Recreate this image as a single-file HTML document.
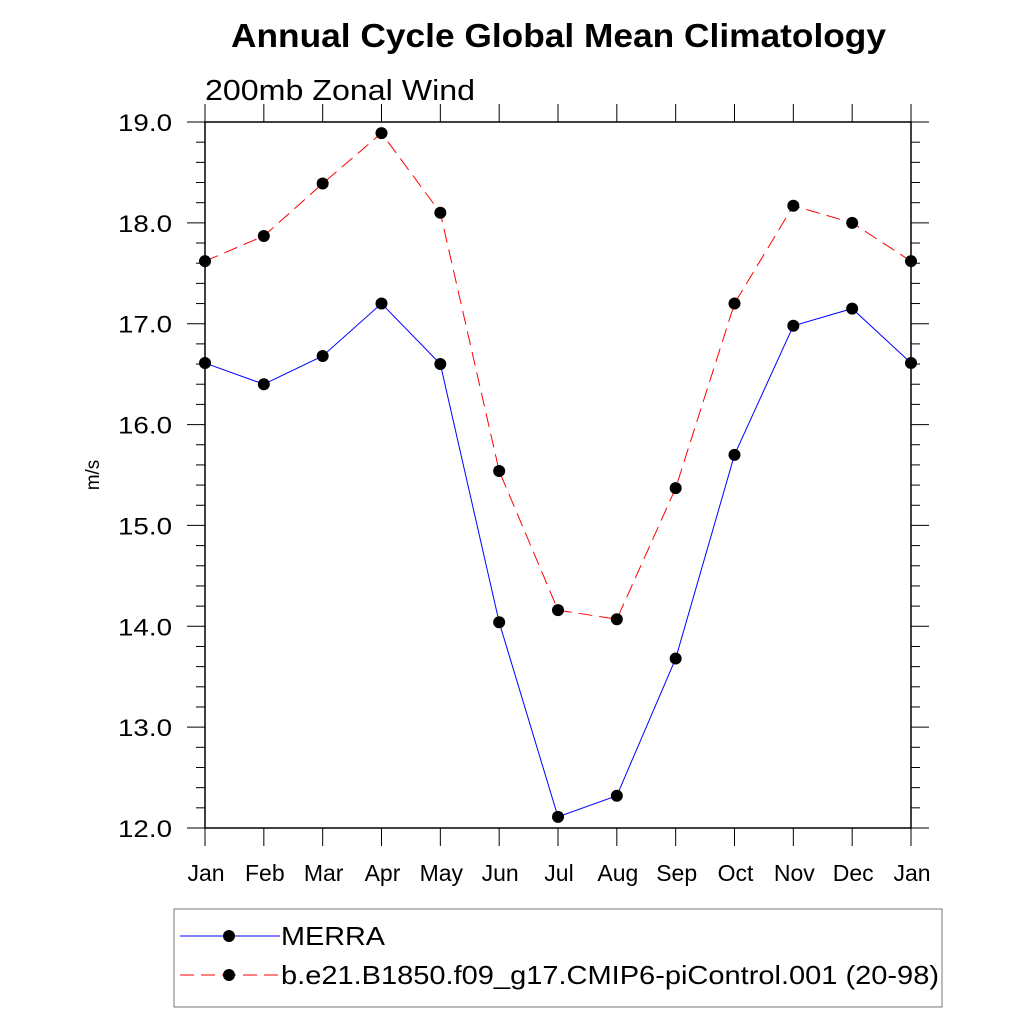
<!DOCTYPE html>
<html><head><meta charset="utf-8"><style>body{margin:0;background:#fff}svg{display:block}text{font-family:"Liberation Sans",sans-serif}</style></head>
<body>
<svg id="chart" width="1024" height="1024" viewBox="0 0 1024 1024">
<text x="231" y="47" font-size="33" font-weight="bold" textLength="655" lengthAdjust="spacingAndGlyphs">Annual Cycle Global Mean Climatology</text>
<text x="205" y="100" font-size="29" textLength="270" lengthAdjust="spacingAndGlyphs">200mb Zonal Wind</text>
<text transform="translate(99,475) rotate(-90)" text-anchor="middle" font-size="19">m/s</text>
<g id="axes"></g><g id="series"></g>
<g>
<rect x="174" y="909" width="768" height="98" fill="none" stroke="#777" stroke-width="1"/>
<line x1="180" y1="936" x2="280" y2="936" stroke="#00f" stroke-width="1"/>
<circle cx="229" cy="936" r="6" fill="#000"/>
<text x="281" y="945" font-size="26" textLength="104" lengthAdjust="spacingAndGlyphs">MERRA</text>
<line x1="180" y1="975" x2="280" y2="975" stroke="#f00" stroke-width="1" stroke-dasharray="14,7"/>
<circle cx="229" cy="975" r="6" fill="#000"/>
<text x="281" y="984" font-size="26" textLength="658" lengthAdjust="spacingAndGlyphs">b.e21.B1850.f09_g17.CMIP6-piControl.001 (20-98)</text>
</g>
</svg>
<script>
const months=["Jan","Feb","Mar","Apr","May","Jun","Jul","Aug","Sep","Oct","Nov","Dec","Jan"];
const merra=[16.61,16.40,16.68,17.20,16.60,14.04,12.11,12.32,13.68,15.70,16.98,17.15,16.61];
const model=[17.62,17.87,18.39,18.89,18.10,15.54,14.16,14.07,15.37,17.20,18.17,18.00,17.62];
const yTicks=[12,13,14,15,16,17,18,19];
const NS="http://www.w3.org/2000/svg";
const L=205,R=911,T=122,B=828;
const x=i=>L+i*(R-L)/12, y=v=>B-(v-12)*(B-T)/7;
function mk(tag,attrs,parent){const e=document.createElementNS(NS,tag);for(const k in attrs)e.setAttribute(k,attrs[k]);parent.appendChild(e);return e;}
const ax=document.getElementById('axes'),se=document.getElementById('series');
const frame=mk('rect',{x:L,y:T,width:R-L,height:B-T,fill:'none',stroke:'#000','stroke-width':1.5},ax);


for(let v=12;v<=19.001;v+=0.2){const major=Math.abs(v-Math.round(v))<1e-6;const len=major?18:9;
 mk('line',{x1:L-len,y1:y(v),x2:L,y2:y(v),stroke:'#000'},ax);mk('line',{x1:R,y1:y(v),x2:R+len,y2:y(v),stroke:'#000'},ax);}
yTicks.forEach(v=>{const t=mk('text',{x:172,y:y(v)+9,'text-anchor':'end','font-size':24,textLength:54,lengthAdjust:'spacingAndGlyphs'},ax);t.textContent=v.toFixed(1);
 
 });
months.forEach((m,i)=>{mk('line',{x1:x(i),y1:B,x2:x(i),y2:B+18,stroke:'#000'},ax);mk('line',{x1:x(i),y1:T-18,x2:x(i),y2:T,stroke:'#000'},ax);
 const t=mk('text',{x:x(i)+1,y:881,'text-anchor':'middle','font-size':23},ax);t.textContent=m;
 
 });
function draw(vals,color,dash,name){const p=mk('polyline',{points:vals.map((v,i)=>x(i)+','+y(v)).join(' '),fill:'none',stroke:color,'stroke-width':1,'stroke-dasharray':dash},se);
 
 
 vals.forEach((v,i)=>{const c=mk('circle',{cx:x(i),cy:y(v),r:6,fill:'#000'},se);
 
 });}
draw(model,'#f00','14,7','model');
draw(merra,'#00f','none','merra');
</script>
</body></html>
